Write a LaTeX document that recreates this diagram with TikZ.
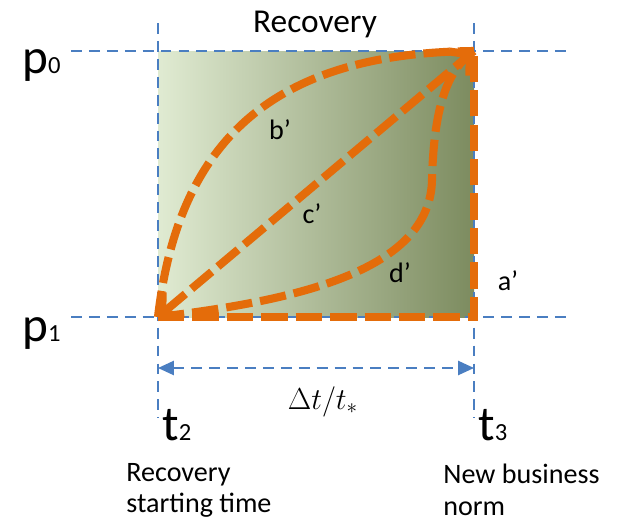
\documentclass[tikz,border=0pt]{standalone}
\usepackage{fontspec}
\setmainfont{Carlito}
\usetikzlibrary{arrows.meta}

\definecolor{guideblue}{RGB}{74,126,193}
\definecolor{curveorange}{RGB}{228,108,10}
\definecolor{gleft}{RGB}{224,235,210}
\definecolor{gmid}{RGB}{162,196,112}
\definecolor{gright}{RGB}{124,139,95}

\begin{document}
\begin{tikzpicture}[x=0.02cm, y=-0.02cm,
    guide/.style={draw=guideblue, line width=1.1pt,
                  dash pattern=on 6.2pt off 4pt},
    crv/.style={draw=curveorange, line width=4.6pt,
                dash pattern=on 15pt off 4.6pt},
    barb/.style={{Straight Barb[length=8pt,width=18pt]}-{Straight Barb[length=8pt,width=18pt]}},
    lbl/.style={font=\fontsize{16}{19}\selectfont, inner sep=0pt},
    txt/.style={font=\fontsize{16}{17.8}\selectfont, inner sep=0pt,
                align=left, anchor=north west},
  ]
    \useasboundingbox (0,0) rectangle (619,521);

    % Kutu
    \coordinate (bl) at (158,317);
    \coordinate (br) at (474,317);
    \coordinate (tr) at (474,51);
    \shade[left color=gleft, middle color=gmid, right color=gright]
      (bl) rectangle (tr);

    % Kesikli kilavuz cizgiler
    \foreach \n/\y in {0/51, 1/317} {
      \coordinate (h\n-w) at (71,\y);
      \coordinate (h\n-e) at (568,\y);
      \draw[guide] (h\n-w) -- (h\n-e);
    }
    \foreach \n/\x in {2/158, 3/474} {
      \coordinate (v\n-n) at (\x,23);
      \coordinate (v\n-s) at (\x,418);
      \draw[guide] (v\n-n) -- (v\n-s);
    }

    % Sure oku
    \coordinate (dl) at (158,368);
    \coordinate (dr) at (474,368);
    \draw[guide, {Triangle[length=9pt,width=8pt]}-{Triangle[length=9pt,width=8pt]}]
      (dl) -- (dr);

    % Egriler
    \draw[crv] (bl) -- (br) -- (tr);
    \draw[crv] (bl) .. controls (180,125) and (290,53) .. (tr);
    \draw[crv, barb] (bl) -- (tr);
    \draw[crv] (bl) .. controls (300,300) and (430,270) .. (432,180)
                    .. controls (434,100) and (450,68) .. (tr);

    \node[lbl] (la) at (508,281) {a’};
    \node[lbl] (lb) at (280,130) {b’};
    \node[lbl] (lc) at (312,214) {c’};
    \node[lbl] (ld) at (400,273) {d’};

    % Eksen yazilari
    \node[anchor=base, inner sep=0pt, font=\fontsize{19}{22}\selectfont]
      (rec) at (315,32) {Recovery};
    \node[anchor=base west, inner sep=0pt] (p0) at (22,73)
      {\fontsize{28}{30}\selectfont p\fontsize{14}{16}\selectfont 0};
    \node[anchor=base west, inner sep=0pt] (p1) at (22,341)
      {\fontsize{28}{30}\selectfont p\fontsize{14}{16}\selectfont 1};
    \node[anchor=base west, inner sep=0pt] (t2) at (162,440)
      {\fontsize{28}{30}\selectfont t\fontsize{14}{16}\selectfont 2};
    \node[anchor=base west, inner sep=0pt] (t3) at (478,440)
      {\fontsize{28}{30}\selectfont t\fontsize{14}{16}\selectfont 3};
    \node[anchor=base, inner sep=0pt, font=\fontsize{17}{20}\selectfont]
      (dt) at (323,409) {$\Delta t/t_*$};

    \node[txt] (start) at (126,463) {Recovery\\starting time};
    \node[txt] (norm) at (443,464) {New business\\norm};
  \end{tikzpicture}
\end{document}
